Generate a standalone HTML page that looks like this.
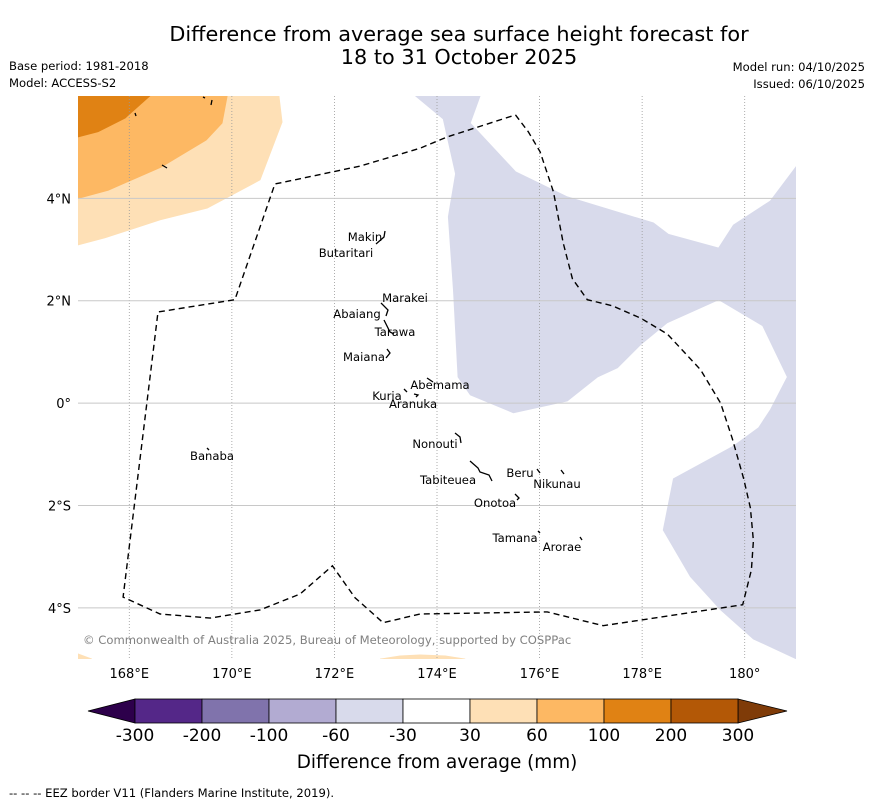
<!DOCTYPE html>
<html><head><meta charset="utf-8"><style>
body{margin:0;background:#fff;}
svg{display:block;font-family:"DejaVu Sans","Liberation Sans",sans-serif;}
</style></head><body>
<svg id="c" width="873" height="804" viewBox="0 0 873 804">
<text x="459" y="41" font-size="20.8" text-anchor="middle">Difference from average sea surface height forecast for</text>
<text x="459" y="64" font-size="20.8" text-anchor="middle">18 to 31 October 2025</text>
<text x="9" y="70" font-size="11.6">Base period: 1981-2018</text>
<text x="9" y="87" font-size="11.6">Model: ACCESS-S2</text>
<text x="865" y="71" font-size="11.6" text-anchor="end">Model run: 04/10/2025</text>
<text x="865" y="88" font-size="11.6" text-anchor="end">Issued: 06/10/2025</text>
<defs><clipPath id="mapclip"><rect x="78" y="96" width="718" height="563"/></clipPath></defs>
<g id="map" clip-path="url(#mapclip)"></g>
<g id="axes"></g>
<g id="labels" font-size="11.6">
<text x="365" y="241" text-anchor="middle">Makin</text>
<text x="346" y="257" text-anchor="middle">Butaritari</text>
<text x="405" y="302" text-anchor="middle">Marakei</text>
<text x="357" y="318" text-anchor="middle">Abaiang</text>
<text x="395" y="336" text-anchor="middle">Tarawa</text>
<text x="364" y="361" text-anchor="middle">Maiana</text>
<text x="440" y="389" text-anchor="middle">Abemama</text>
<text x="387" y="400" text-anchor="middle">Kuria</text>
<text x="413" y="408" text-anchor="middle">Aranuka</text>
<text x="212" y="460" text-anchor="middle">Banaba</text>
<text x="435" y="448" text-anchor="middle">Nonouti</text>
<text x="448" y="484" text-anchor="middle">Tabiteuea</text>
<text x="520" y="477" text-anchor="middle">Beru</text>
<text x="557" y="488" text-anchor="middle">Nikunau</text>
<text x="495" y="507" text-anchor="middle">Onotoa</text>
<text x="515" y="542" text-anchor="middle">Tamana</text>
<text x="562" y="551" text-anchor="middle">Arorae</text>
</g>
<g stroke="#000" stroke-width="1.3" fill="none">
<path d="M385,231 L384,237 L376,244" /><path d="M381,303 L388,310 L386,316"/><path d="M384,320 L390,332 L394,334"/>
<path d="M387,349 L390,353 L386,358"/><path d="M427,378 L433,382"/><path d="M404,389 L407,392"/><path d="M414,394 L418,395 L416,397"/>
<path d="M455,433 L460,437 L461,443"/><path d="M470,461 L478,468 L480,472 L489,475 L492,481"/><path d="M537,469 L540,473"/>
<path d="M561,470 L564,474"/><path d="M515,494 L519,498 L517,500"/><path d="M538,531 L540,533"/><path d="M580,537 L582,540"/>
<path d="M207,448 L209,450"/><path d="M203,97 L205,98"/><path d="M212,100 L211,105"/><path d="M135,113 L136,116"/><path d="M162,165 L167,168"/>
</g>
<text x="83" y="644" font-size="11.6" fill="#808080">© Commonwealth of Australia 2025, Bureau of Meteorology, supported by COSPPac</text>
<g id="cbar"></g>
<text x="437" y="768" font-size="18.4" text-anchor="middle">Difference from average (mm)</text>
<text x="9" y="797" font-size="11.6">--  --  -- EEZ border V11 (Flanders Marine Institute, 2019).</text>
</svg>
<script>
const lonTicks=[168,170,172,174,176,178,180];
const lonTickLabels=["168°E","170°E","172°E","174°E","176°E","178°E","180°"];
const latTicks=[4,2,0,-2,-4];
const latTickLabels=["4°N","2°N","0°","2°S","4°S"];
const cbarBounds=["-300","-200","-100","-60","-30","30","60","100","200","300"];
const cbarColors=["#542788","#8073ac","#b2abd2","#d8daeb","#ffffff","#fee0b6","#fdb863","#e08214","#b35806"];
const negPurpleLon=[173.58,174.12,174.36,174.22,174.32,174.41,174.65,175.49,176.54,177.13,177.52,177.97,178.49,179.49,180.35,180.83,180.50,180.27,179.78,178.61,178.41,178.94,179.53,180.17,181.01,181.01,180.50,179.78,179.49,178.51,178.22,176.54,175.53,174.65,174.84];
const negPurpleLat=[6,5.55,4.48,3.64,2.21,0.51,0.16,-0.19,0.04,0.51,0.69,1.14,1.57,2.02,1.51,0.51,-0.13,-0.48,-0.84,-1.48,-2.48,-3.39,-4.04,-4.61,-5,4.63,3.95,3.48,3.03,3.30,3.52,4.03,4.52,5.47,6];
const pos30Lon=[167,170.92,170.98,170.55,169.52,168.60,167.53,167];
const pos30Lat=[6,6,5.49,4.36,3.81,3.58,3.23,3.09];
const pos60Lon=[167,169.91,169.81,169.50,168.62,167.59,167];
const pos60Lat=[6,6,5.47,5.14,4.61,4.16,4.0];
const pos100Lon=[167,168.40,167.92,167.39,167];
const pos100Lat=[6,6,5.57,5.30,5.20];
const posBL_Lon=[167,167.27,167.27,167];
const posBL_Lat=[-4.90,-5.0,-5.0,-5.0];
const posBM_Lon=[172.89,173.28,173.67,174.16,174.55];
const posBM_Lat=[-5,-4.94,-4.92,-4.94,-5];
const eezLon=[175.53,175.78,176.01,176.27,176.46,176.64,176.93,177.42,177.97,178.49,179.14,179.53,179.76,179.98,180.11,180.17,180.13,179.96,179.82,177.24,176.15,173.67,172.95,172.40,171.96,171.33,170.55,169.58,168.60,167.88,168.56,170.06,170.84,172.50,173.67,174.20,175.53];
const eezLat=[5.63,5.30,4.91,4.13,3.13,2.43,2.02,1.90,1.66,1.35,0.65,0.00,-0.70,-1.48,-2.05,-2.69,-3.26,-3.94,-3.96,-4.35,-4.08,-4.12,-4.29,-3.80,-3.18,-3.73,-4.04,-4.20,-4.12,-3.79,1.78,2.02,4.28,4.63,4.98,5.20,5.63];

const X0=78,X1=796,Y0=96,Y1=659,LON0=167,LON1=181,LAT0=6,LAT1=-5;
function xs(lon){return X0+(lon-LON0)/(LON1-LON0)*(X1-X0);}
function ys(lat){return Y0+(LAT0-lat)/(LAT0-LAT1)*(Y1-Y0);}
const NS="http://www.w3.org/2000/svg";
function mk(tag,attrs,parent){const e=document.createElementNS(NS,tag);for(const k in attrs)e.setAttribute(k,attrs[k]);parent.appendChild(e);return e;}
function pts(lo,la){return lo.map((v,i)=>xs(v).toFixed(1)+","+ys(la[i]).toFixed(1)).join(" ");}
const map=document.getElementById('map');
function poly(lo,la,fill,name){
  const p=mk('polygon',{points:pts(lo,la),fill:fill,stroke:fill,'stroke-width':0.8},map);
  
  
}
poly(negPurpleLon,negPurpleLat,"#d8daeb","contour-minus-30-to-60");
poly(pos30Lon,pos30Lat,"#fee0b6","contour-30-to-60");
poly(pos60Lon,pos60Lat,"#fdb863","contour-60-to-100");
poly(pos100Lon,pos100Lat,"#e08214","contour-100-to-200");
poly(posBL_Lon,posBL_Lat,"#fee0b6","contour-30-bottom-left");
poly(posBM_Lon,posBM_Lat,"#fee0b6","contour-30-bottom-middle");
lonTicks.forEach((v,i)=>{
  const l=mk('line',{x1:xs(v),x2:xs(v),y1:Y0,y2:Y1,stroke:"#999",'stroke-width':0.8,'stroke-dasharray':"1,2"},map);
  
  
});
latTicks.forEach((v,i)=>{
  const l=mk('line',{x1:X0,x2:X1,y1:ys(v),y2:ys(v),stroke:"#c8c8c8",'stroke-width':1},map);
  
  
});
const eez=mk('polyline',{points:pts(eezLon,eezLat),fill:"none",stroke:"#000",'stroke-width':1.4,'stroke-dasharray':"6,4"},map);


const axes=document.getElementById('axes');
lonTicks.forEach((v,i)=>{
  const t=mk('text',{x:xs(v),y:678,'font-size':13,'text-anchor':'middle'},axes);
  t.textContent=lonTickLabels[i];
  
  
});
latTicks.forEach((v,i)=>{
  const t=mk('text',{x:71,y:ys(v)+5,'font-size':13,'text-anchor':'end'},axes);
  t.textContent=latTickLabels[i];
  
  
});
const cb=document.getElementById('cbar');
const CB0=135,CB1=738,CT=699,CBt=723,n=cbarColors.length,w=(CB1-CB0)/n;
const lt=mk('polygon',{points:`88,711 ${CB0},${CT} ${CB0},${CBt}`,fill:"#2d004b",stroke:"#000",'stroke-width':0.8},cb);


const rt=mk('polygon',{points:`787,711 ${CB1},${CT} ${CB1},${CBt}`,fill:"#7f3b08",stroke:"#000",'stroke-width':0.8},cb);


cbarColors.forEach((c,i)=>{
  const r=mk('rect',{x:CB0+i*w,y:CT,width:w,height:CBt-CT,fill:c,stroke:"#000",'stroke-width':0.8},cb);
  
  
});
cbarBounds.forEach((b,i)=>{
  const t=mk('text',{x:CB0+i*w,y:741,'font-size':17,'text-anchor':'middle'},cb);
  t.textContent=b;
  
  
});
</script>
</body></html>
